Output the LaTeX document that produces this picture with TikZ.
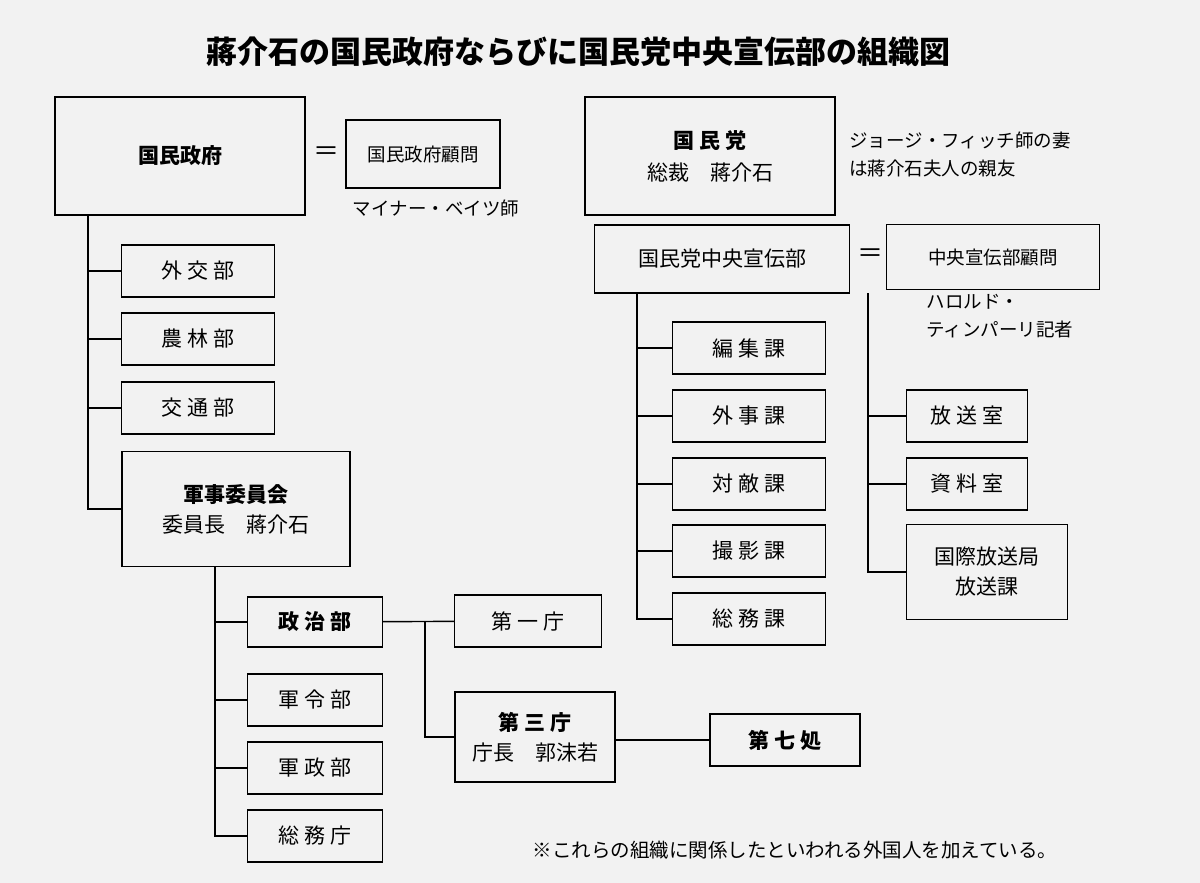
\documentclass[tikz,border=0pt]{standalone}
\usepackage{fontspec}
\setmainfont{Noto Sans CJK JP}
\usetikzlibrary{positioning}
\tikzset{every path/.style={line width=1.4pt},
  box/.style={draw, inner sep=0pt, align=center, font=\fontsize{21}{30}\selectfont},
  small/.style={box, minimum width=153, minimum height=52},
  note/.style={align=left, inner sep=0pt, font=\fontsize{18.5}{28}\selectfont}}

\begin{document}
\begin{tikzpicture}[x=1pt,y=-1pt]
  \fill[black!5] (0,0) rectangle (1200,883);
  \useasboundingbox (0,0) rectangle (1200,883);
  \node[font=\fontsize{31}{34}\selectfont\bfseries] (title) at (578,52) {蔣介石の国民政府ならびに国民党中央宣伝部の組織図};
  % left: government
  \node[box, minimum width=250, minimum height=118] (seifu) at (180,156) {\textbf{国民政府}};
  \node[box, minimum width=154, minimum height=68, font=\fontsize{18.5}{24}\selectfont] (seifukomon) at (423,154) {国民政府顧問};
  \node[font=\fontsize{26}{26}\selectfont] (eq1) at (326,154) {＝};
  \node[note] (bates) at (436,208) {マイナー・ベイツ師};
  \node[small] (gaikou) at (198,271) {外 交 部};
  \node[small] (nourin) at (198,339) {農 林 部};
  \node[small] (koutsu) at (198,408) {交 通 部};
  \node[box, minimum width=228, minimum height=115] (gunji) at (236,509) {\textbf{軍事委員会}\\委員長\quad 蔣介石};
  \coordinate (tL) at (88,215);
  \foreach \n in {gaikou,nourin,koutsu,gunji} {
    \draw (tL) |- (\n.west);
  }
  \node[small, minimum width=135, minimum height=50] (seiji) at (315,622) {\textbf{政 治 部}};
  \node[small, minimum width=135] (gunrei) at (315,700) {軍 令 部};
  \node[small, minimum width=135] (gunsei) at (315,768) {軍 政 部};
  \node[small, minimum width=135] (soumuchou) at (315,836) {総 務 庁};
  \coordinate (tG) at (215,567);
  \foreach \n in {seiji,gunrei,gunsei,soumuchou} {
    \draw (tG) |- (\n.west);
  }
  \node[small, minimum width=147] (daiichi) at (528,621) {第 一 庁};
  \node[box, minimum width=160, minimum height=90] (daisan) at (535,737) {\textbf{第 三 庁}\\庁長\quad 郭沫若};
  \node[small, minimum width=150] (daishichi) at (785,740) {\textbf{第 七 処}};
  \coordinate (jS) at (425,622);
  \draw (seiji) -- (daiichi);
  \draw (jS) |- (daisan.west);
  \draw (daisan.east |- daishichi) -- (daishichi);
  % right: party
  \node[box, minimum width=250, minimum height=118] (kmt) at (710,156) {\textbf{国 民 党}\\[2pt]総裁\quad 蔣介石};
  \node[note] (fitch) at (960,154) {ジョージ・フィッチ師の妻\\は蔣介石夫人の親友};
  \node[box, minimum width=255, minimum height=68] (senden) at (722,259) {国民党中央宣伝部};
  \node[font=\fontsize{26}{26}\selectfont] (eq2) at (870,256) {＝};
  \node[box, minimum width=213, minimum height=65, font=\fontsize{18.5}{24}\selectfont] (sendenkomon) at (993,257) {中央宣伝部顧問};
  \node[note] (timperley) at (1000,316) {ハロルド・\\ティンパーリ記者};
  \node[small] (henshuu) at (749,348) {編 集 課};
  \node[small] (gaiji) at (749,416) {外 事 課};
  \node[small] (taiteki) at (749,484) {対 敵 課};
  \node[small] (satsuei) at (749,551) {撮 影 課};
  \node[small] (soumuka) at (749,619) {総 務 課};
  \coordinate (tM) at (637,293);
  \foreach \n in {henshuu,gaiji,taiteki,satsuei,soumuka} {
    \draw (tM) |- (\n.west);
  }
  \node[small, minimum width=121] (housou) at (967,416) {放 送 室};
  \node[small, minimum width=121] (shiryou) at (967,484) {資 料 室};
  \node[box, minimum width=161, minimum height=95] (kokusai) at (987,572) {国際放送局\\放送課};
  \coordinate (tR) at (868,293);
  \foreach \n in {housou,shiryou,kokusai} {
    \draw (tR) |- (\n.west);
  }
  \node[font=\fontsize{19.5}{22}\selectfont] (foot) at (795,850) {※これらの組織に関係したといわれる外国人を加えている。};
\end{tikzpicture}
\end{document}
